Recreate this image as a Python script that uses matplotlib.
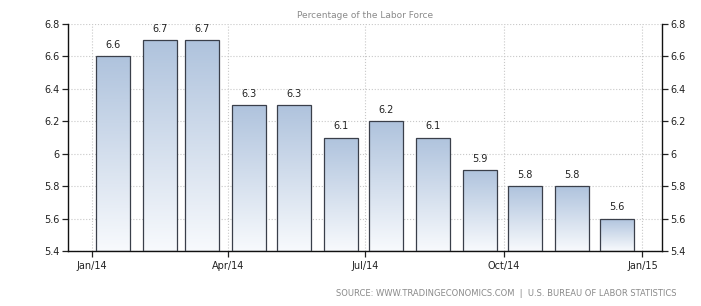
import numpy as np
import matplotlib
matplotlib.use("Agg")
import matplotlib.pyplot as plt
import matplotlib.dates as mdates
from matplotlib.colors import LinearSegmentedColormap
import datetime as dt

# monthly unemployment rate, 2014 (bars centred mid-month)
months = [dt.date(2014, m, 15) for m in range(1, 13)]
rates = [6.6, 6.7, 6.7, 6.3, 6.3, 6.1, 6.2, 6.1, 5.9, 5.8, 5.8, 5.6]
yticks = [5.4, 5.6, 5.8, 6.0, 6.2, 6.4, 6.6, 6.8]
ytick_labels = ["5.4", "5.6", "5.8", "6", "6.2", "6.4", "6.6", "6.8"]
xticks = [dt.date(2014, 1, 1), dt.date(2014, 4, 1), dt.date(2014, 7, 1),
          dt.date(2014, 10, 1), dt.date(2015, 1, 1)]

fig = plt.figure(figsize=(7.01, 3.06), dpi=100)
ax = fig.add_axes([68 / 701, 1 - 251 / 306, (662 - 68) / 701, (251 - 24) / 306])

x = mdates.date2num(months)
bars = ax.bar(x, np.array(rates) - 5.4, width=22.5, bottom=5.4,
              facecolor="none", edgecolor="#3a3f4a", linewidth=0.9, zorder=3)

# vertical gradient inside each bar
grad_cmap = LinearSegmentedColormap.from_list("bar", ["#f8fafd", "#afc3dd"])
grad = np.linspace(0, 1, 256).reshape(-1, 1)
for b in bars:
    x0, y0 = b.get_x(), b.get_y()
    im = ax.imshow(grad, cmap=grad_cmap, origin="lower", aspect="auto",
                   extent=(x0, x0 + b.get_width(), y0, y0 + b.get_height()),
                   zorder=2)
    im.set_clip_path(b)

for xi, v in zip(x, rates):
    ax.annotate(f"{v:.1f}", (xi, v), xytext=(0, 8), textcoords="offset points",
                ha="center", va="center", fontsize=7, color="#222222")

ax.set_xlim(mdates.date2num(dt.date(2013, 12, 16)), mdates.date2num(dt.date(2015, 1, 14)))
ax.set_ylim(5.4, 6.8)
ax.set_xticks(mdates.date2num(xticks))
ax.xaxis.set_major_formatter(mdates.DateFormatter("%b/%y"))
ax.set_yticks(yticks)
ax.set_yticklabels(ytick_labels)

ax.grid(True, linestyle=":", color="#c8c8c8", linewidth=0.8)
ax.set_axisbelow(True)
ax.spines["top"].set_visible(False)
for s in ["left", "right", "bottom"]:
    ax.spines[s].set_linewidth(1.0)
    ax.spines[s].set_color("#111111")
ax.tick_params(axis="y", left=True, right=True, labelleft=True, labelright=True,
               length=4, width=0.9, labelsize=7, colors="#222222", pad=2)
ax.tick_params(axis="x", length=4, width=0.9, labelsize=7, colors="#222222", pad=3)

ax.set_title("Percentage of the Labor Force", fontsize=6.5, color="#8a8a8a", pad=4)
fig.text(677 / 701, 1 - 293 / 306,
         "SOURCE: WWW.TRADINGECONOMICS.COM  |  U.S. BUREAU OF LABOR STATISTICS",
         ha="right", va="center", fontsize=6, color="#8a8a8a")

fig.savefig("out.png", dpi=100)
